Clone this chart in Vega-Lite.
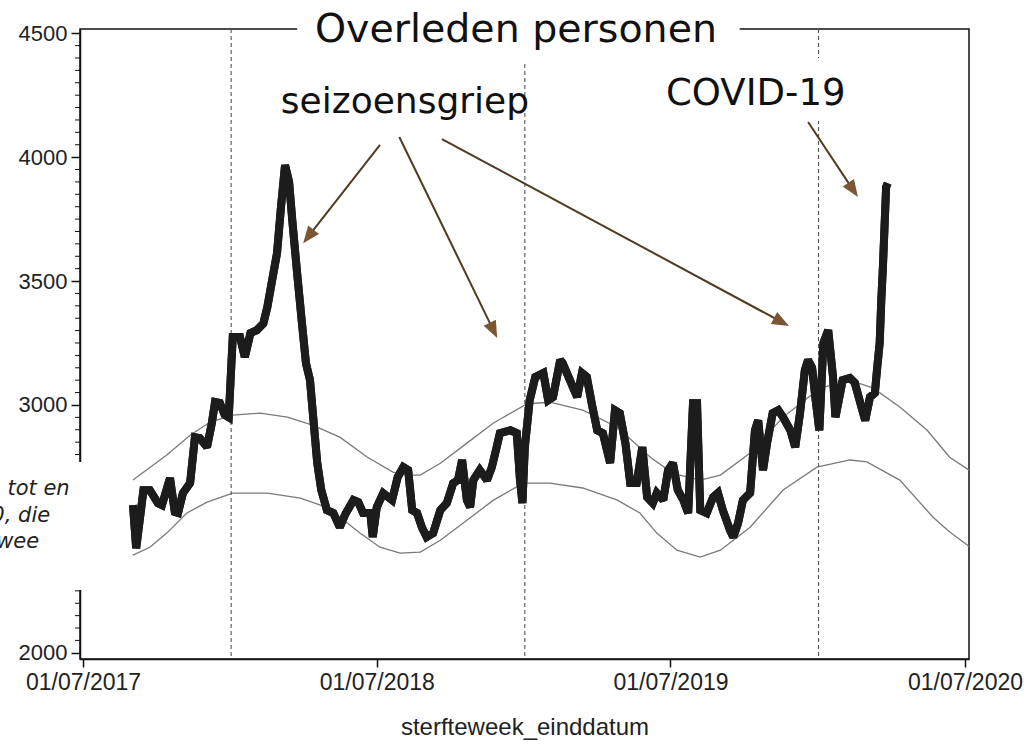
{
  "$schema": "https://vega.github.io/schema/vega-lite/v6.json",
  "width": 889,
  "height": 630,
  "autosize": "none",
  "padding": {"left": 80, "top": 29, "right": 57, "bottom": 85},
  "background": "white",
  "config": {
    "view": {"stroke": "#111111", "strokeWidth": 1.5},
    "axis": {"grid": false, "labelFont": "Liberation Sans", "titleFont": "Liberation Sans", "labelColor": "#222222", "titleColor": "#222222", "domainColor": "#111111", "tickColor": "#111111"}
  },
  "datasets": {
    "deaths": [
      {"d":"2017-09-01","v":2596},{"d":"2017-09-05","v":2422},{"d":"2017-09-14","v":2656},{"d":"2017-09-22","v":2656},
      {"d":"2017-10-02","v":2604},{"d":"2017-10-07","v":2596},{"d":"2017-10-17","v":2705},{"d":"2017-10-23","v":2568},
      {"d":"2017-10-27","v":2564},{"d":"2017-11-02","v":2644},{"d":"2017-11-11","v":2685},{"d":"2017-11-17","v":2870},
      {"d":"2017-11-23","v":2866},{"d":"2017-12-02","v":2830},{"d":"2017-12-08","v":2927},{"d":"2017-12-12","v":3012},
      {"d":"2017-12-18","v":3008},{"d":"2017-12-24","v":2960},{"d":"2017-12-29","v":2950},{"d":"2018-01-03","v":3274},
      {"d":"2018-01-12","v":3274},{"d":"2018-01-18","v":3193},{"d":"2018-01-25","v":3290},{"d":"2018-02-02","v":3302},
      {"d":"2018-02-10","v":3329},{"d":"2018-02-15","v":3395},{"d":"2018-02-21","v":3504},{"d":"2018-02-27","v":3612},
      {"d":"2018-03-04","v":3800},{"d":"2018-03-09","v":3968},{"d":"2018-03-14","v":3900},{"d":"2018-03-18","v":3745},
      {"d":"2018-03-24","v":3532},{"d":"2018-03-30","v":3330},{"d":"2018-04-04","v":3168},{"d":"2018-04-09","v":3100},
      {"d":"2018-04-13","v":2950},{"d":"2018-04-18","v":2766},{"d":"2018-04-23","v":2657},{"d":"2018-04-30","v":2576},
      {"d":"2018-05-08","v":2564},{"d":"2018-05-16","v":2507},{"d":"2018-05-23","v":2560},{"d":"2018-06-02","v":2616},
      {"d":"2018-06-08","v":2608},{"d":"2018-06-14","v":2564},{"d":"2018-06-23","v":2564},{"d":"2018-06-26","v":2467},
      {"d":"2018-07-01","v":2588},{"d":"2018-07-09","v":2644},{"d":"2018-07-20","v":2616},{"d":"2018-07-27","v":2709},
      {"d":"2018-08-03","v":2749},{"d":"2018-08-09","v":2737},{"d":"2018-08-14","v":2576},{"d":"2018-08-20","v":2564},
      {"d":"2018-08-26","v":2507},{"d":"2018-09-01","v":2467},{"d":"2018-09-09","v":2483},{"d":"2018-09-18","v":2576},
      {"d":"2018-09-26","v":2604},{"d":"2018-10-04","v":2685},{"d":"2018-10-10","v":2697},{"d":"2018-10-15","v":2778},
      {"d":"2018-10-21","v":2616},{"d":"2018-10-25","v":2588},{"d":"2018-10-29","v":2697},{"d":"2018-11-06","v":2737},
      {"d":"2018-11-15","v":2697},{"d":"2018-11-21","v":2749},{"d":"2018-11-27","v":2830},{"d":"2018-12-01","v":2886},
      {"d":"2018-12-14","v":2898},{"d":"2018-12-22","v":2886},{"d":"2018-12-26","v":2697},{"d":"2018-12-29","v":2604},
      {"d":"2019-01-01","v":2830},{"d":"2019-01-07","v":3019},{"d":"2019-01-14","v":3113},{"d":"2019-01-24","v":3129},
      {"d":"2019-01-30","v":3019},{"d":"2019-02-05","v":3032},{"d":"2019-02-14","v":3181},{"d":"2019-02-17","v":3169},
      {"d":"2019-02-26","v":3100},{"d":"2019-03-07","v":3032},{"d":"2019-03-13","v":3129},{"d":"2019-03-19","v":3113},
      {"d":"2019-03-26","v":2992},{"d":"2019-04-01","v":2898},{"d":"2019-04-08","v":2886},{"d":"2019-04-17","v":2766},
      {"d":"2019-04-23","v":2979},{"d":"2019-04-29","v":2967},{"d":"2019-05-06","v":2845},{"d":"2019-05-12","v":2685},
      {"d":"2019-05-20","v":2685},{"d":"2019-05-27","v":2830},{"d":"2019-06-02","v":2628},{"d":"2019-06-09","v":2604},
      {"d":"2019-06-14","v":2645},{"d":"2019-06-22","v":2616},{"d":"2019-06-28","v":2737},{"d":"2019-07-04","v":2766},
      {"d":"2019-07-10","v":2657},{"d":"2019-07-17","v":2616},{"d":"2019-07-23","v":2564},{"d":"2019-07-29","v":3007},
      {"d":"2019-08-03","v":3007},{"d":"2019-08-07","v":2576},{"d":"2019-08-15","v":2564},{"d":"2019-08-23","v":2628},
      {"d":"2019-08-29","v":2645},{"d":"2019-09-04","v":2576},{"d":"2019-09-13","v":2495},{"d":"2019-09-17","v":2467},
      {"d":"2019-09-23","v":2523},{"d":"2019-09-29","v":2616},{"d":"2019-10-08","v":2645},{"d":"2019-10-14","v":2898},
      {"d":"2019-10-18","v":2938},{"d":"2019-10-24","v":2737},{"d":"2019-10-29","v":2845},{"d":"2019-11-05","v":2967},
      {"d":"2019-11-12","v":2979},{"d":"2019-11-18","v":2950},{"d":"2019-11-27","v":2898},{"d":"2019-12-03","v":2830},
      {"d":"2019-12-09","v":2967},{"d":"2019-12-15","v":3141},{"d":"2019-12-19","v":3181},{"d":"2019-12-24","v":3150},
      {"d":"2019-12-28","v":3032},{"d":"2020-01-02","v":2898},{"d":"2020-01-07","v":3250},{"d":"2020-01-13","v":3302},
      {"d":"2020-01-19","v":3113},{"d":"2020-01-22","v":2951},{"d":"2020-01-25","v":3000},{"d":"2020-01-31","v":3100},
      {"d":"2020-02-09","v":3109},{"d":"2020-02-15","v":3090},{"d":"2020-02-22","v":3007},{"d":"2020-02-28","v":2938},
      {"d":"2020-03-05","v":3032},{"d":"2020-03-11","v":3048},{"d":"2020-03-14","v":3153},{"d":"2020-03-17","v":3250},
      {"d":"2020-03-19","v":3423},{"d":"2020-03-21","v":3556},{"d":"2020-03-23","v":3717},{"d":"2020-03-25","v":3879},
      {"d":"2020-03-27","v":3895}
    ],
    "bounds": [
      {"b":"boven","d":"2017-09-01","v":2697},{"b":"boven","d":"2017-10-13","v":2798},{"b":"boven","d":"2017-11-11","v":2878},
      {"b":"boven","d":"2017-12-06","v":2931},{"b":"boven","d":"2018-01-03","v":2959},{"b":"boven","d":"2018-02-06","v":2967},
      {"b":"boven","d":"2018-03-12","v":2951},{"b":"boven","d":"2018-04-13","v":2918},{"b":"boven","d":"2018-05-16","v":2870},
      {"b":"boven","d":"2018-06-19","v":2790},{"b":"boven","d":"2018-07-21","v":2729},{"b":"boven","d":"2018-08-08","v":2717},
      {"b":"boven","d":"2018-08-24","v":2717},{"b":"boven","d":"2018-09-18","v":2765},{"b":"boven","d":"2018-10-21","v":2846},
      {"b":"boven","d":"2018-11-23","v":2927},{"b":"boven","d":"2019-01-04","v":3005},{"b":"boven","d":"2019-02-01","v":3011},
      {"b":"boven","d":"2019-03-14","v":2979},{"b":"boven","d":"2019-04-26","v":2910},{"b":"boven","d":"2019-06-06","v":2789},
      {"b":"boven","d":"2019-07-04","v":2724},{"b":"boven","d":"2019-08-07","v":2697},{"b":"boven","d":"2019-09-01","v":2717},
      {"b":"boven","d":"2019-10-08","v":2806},{"b":"boven","d":"2019-11-18","v":2951},{"b":"boven","d":"2020-01-03","v":3068},
      {"b":"boven","d":"2020-02-09","v":3100},{"b":"boven","d":"2020-03-09","v":3068},{"b":"boven","d":"2020-04-11","v":2992},
      {"b":"boven","d":"2020-05-15","v":2898},{"b":"boven","d":"2020-06-12","v":2789},{"b":"boven","d":"2020-07-06","v":2737},
      {"b":"onder","d":"2017-09-01","v":2394},{"b":"onder","d":"2017-09-22","v":2426},{"b":"onder","d":"2017-10-13","v":2483},
      {"b":"onder","d":"2017-11-07","v":2564},{"b":"onder","d":"2017-12-02","v":2608},{"b":"onder","d":"2018-01-03","v":2644},
      {"b":"onder","d":"2018-02-15","v":2644},{"b":"onder","d":"2018-03-28","v":2624},{"b":"onder","d":"2018-04-22","v":2596},
      {"b":"onder","d":"2018-05-16","v":2548},{"b":"onder","d":"2018-06-10","v":2483},{"b":"onder","d":"2018-07-05","v":2426},
      {"b":"onder","d":"2018-07-30","v":2402},{"b":"onder","d":"2018-08-24","v":2406},{"b":"onder","d":"2018-09-18","v":2454},
      {"b":"onder","d":"2018-10-21","v":2535},{"b":"onder","d":"2018-11-23","v":2616},{"b":"onder","d":"2018-12-30","v":2685},
      {"b":"onder","d":"2019-02-01","v":2685},{"b":"onder","d":"2019-03-14","v":2665},{"b":"onder","d":"2019-04-26","v":2616},
      {"b":"onder","d":"2019-05-24","v":2564},{"b":"onder","d":"2019-06-14","v":2483},{"b":"onder","d":"2019-07-09","v":2414},
      {"b":"onder","d":"2019-08-07","v":2386},{"b":"onder","d":"2019-09-01","v":2414},{"b":"onder","d":"2019-10-08","v":2507},
      {"b":"onder","d":"2019-11-18","v":2657},{"b":"onder","d":"2019-12-30","v":2749},{"b":"onder","d":"2020-02-09","v":2778},
      {"b":"onder","d":"2020-03-01","v":2770},{"b":"onder","d":"2020-04-11","v":2697},{"b":"onder","d":"2020-05-22","v":2548},
      {"b":"onder","d":"2020-06-12","v":2487},{"b":"onder","d":"2020-07-06","v":2430}
    ],
    "arrows": [
      {"id":1,"d1":"2018-07-05","v1":4049,"d2":"2018-04-07","v2":3680},
      {"id":2,"d1":"2018-07-29","v1":4081,"d2":"2018-11-23","v2":3301},
      {"id":3,"d1":"2018-09-20","v1":4073,"d2":"2019-11-16","v2":3335},
      {"id":4,"d1":"2019-12-19","v1":4142,"d2":"2020-02-13","v2":3868}
    ],
    "minor": [
      {"v":2050},{"v":2100},{"v":2150},{"v":2200},{"v":2250},{"v":2300},{"v":2350},{"v":2400},{"v":2450},
      {"v":2550},{"v":2600},{"v":2650},{"v":2700},{"v":2750},{"v":2800},{"v":2850},{"v":2900},{"v":2950},
      {"v":3050},{"v":3100},{"v":3150},{"v":3200},{"v":3250},{"v":3300},{"v":3350},{"v":3400},{"v":3450},
      {"v":3550},{"v":3600},{"v":3650},{"v":3700},{"v":3750},{"v":3800},{"v":3850},{"v":3900},{"v":3950},
      {"v":4050},{"v":4100},{"v":4150},{"v":4200},{"v":4250},{"v":4300},{"v":4350},{"v":4400},{"v":4450}
    ]
  },
  "layer": [
    {
      "data": {"name": "deaths"},
      "mark": {"type": "line", "color": "#1c1c1c", "strokeWidth": 8, "strokeJoin": "miter", "strokeMiterLimit": 2},
      "encoding": {
        "x": {
          "field": "d", "type": "temporal",
          "scale": {"type": "utc", "domain": [1498536000000, 1593993600000]},
          "axis": {
            "values": [1498867200000, 1530403200000, 1561939200000, 1593561600000],
            "labelExpr": "utcFormat(datum.value, '%d/%m/%Y')", "tickSize": 8, "tickWidth": 1.5, "domainWidth": 1.5, "labelPadding": 4,
            "labelFontSize": 23, "labelOverlap": false,
            "title": "sterfteweek_einddatum", "titleFontSize": 24, "titleFontWeight": "normal", "titlePadding": 21
          }
        },
        "y": {
          "field": "v", "type": "quantitative",
          "scale": {"domain": [1975, 4517], "nice": false, "zero": false},
          "axis": {
            "orient": "left", "values": [2000, 2500, 3000, 3500, 4000, 4500], "format": "d", "tickSize": 9, "tickWidth": 1.5,
            "domainWidth": 1.5, "labelPadding": 4, "labelFontSize": 22, "title": null
          }
        }
      }
    },
    {
      "data": {"name": "minor"},
      "mark": {"type": "point", "shape": "M-1,0L0,0", "size": 100, "filled": false, "stroke": "#111111", "strokeWidth": 1, "opacity": 1},
      "encoding": {
        "x": {"datum": 1498536000000, "type": "temporal"},
        "y": {"field": "v", "type": "quantitative"}
      }
    },
    {
      "data": {"name": "bounds"},
      "mark": {"type": "line", "color": "#7a7a7a", "strokeWidth": 1.3},
      "encoding": {
        "x": {"field": "d", "type": "temporal"},
        "y": {"field": "v", "type": "quantitative"},
        "detail": {"field": "b"}
      }
    },
    {
      "data": {"values": [{"d": "2018-01-01"}, {"d": "2019-01-01"}, {"d": "2020-01-01"}]},
      "mark": {"type": "rule", "color": "#555555", "strokeWidth": 1.1, "strokeDash": [4, 3]},
      "encoding": {
        "x": {"field": "d", "type": "temporal"}
      }
    },
    {
      "data": {"name": "deaths"},
      "mark": {"type": "line", "color": "#1c1c1c", "strokeWidth": 8, "strokeJoin": "miter", "strokeMiterLimit": 2},
      "encoding": {
        "x": {"field": "d", "type": "temporal"},
        "y": {"field": "v", "type": "quantitative"}
      }
    },
    {
      "data": {"values": [
        {"x1": "2018-03-24", "x2": "2019-09-25", "y1": 4384, "y2": 4580},
        {"x1": "2019-06-18", "x2": "2020-02-09", "y1": 4146, "y2": 4400},
        {"x1": "2016-11-01", "x2": "2017-08-03", "y1": 2253, "y2": 2770}
      ]},
      "mark": {"type": "rect", "color": "white", "opacity": 1},
      "encoding": {
        "x": {"field": "x1", "type": "temporal"},
        "x2": {"field": "x2"},
        "y": {"field": "y1", "type": "quantitative"},
        "y2": {"field": "y2"}
      }
    },
    {
      "data": {"values": [{"d": "2018-12-21", "v": 4465, "t": "Overleden personen"}]},
      "mark": {"type": "text", "font": "DejaVu Sans", "fontSize": 39.5, "align": "center", "baseline": "alphabetic", "color": "#111111"},
      "encoding": {
        "x": {"field": "d", "type": "temporal"},
        "y": {"field": "v", "type": "quantitative"},
        "text": {"field": "t"}
      }
    },
    {
      "data": {"values": [{"d": "2018-08-05", "v": 4178, "t": "seizoensgriep"}]},
      "mark": {"type": "text", "font": "DejaVu Sans", "fontSize": 36, "align": "center", "baseline": "alphabetic", "color": "#111111"},
      "encoding": {
        "x": {"field": "d", "type": "temporal"},
        "y": {"field": "v", "type": "quantitative"},
        "text": {"field": "t"}
      }
    },
    {
      "data": {"values": [{"d": "2019-10-15", "v": 4210, "t": "COVID-19"}]},
      "mark": {"type": "text", "font": "DejaVu Sans", "fontSize": 37, "align": "center", "baseline": "alphabetic", "color": "#111111"},
      "encoding": {
        "x": {"field": "d", "type": "temporal"},
        "y": {"field": "v", "type": "quantitative"},
        "text": {"field": "t"}
      }
    },
    {
      "data": {"values": [
        {"d": "2017-03-29", "v": 2637, "t": "tot en"},
        {"d": "2017-03-09", "v": 2528, "t": "0, die"},
        {"d": "2017-03-15", "v": 2423, "t": "wee"}
      ]},
      "mark": {"type": "text", "font": "DejaVu Sans", "fontSize": 21, "fontStyle": "italic", "align": "left", "baseline": "alphabetic", "color": "#222222"},
      "encoding": {
        "x": {"field": "d", "type": "temporal"},
        "y": {"field": "v", "type": "quantitative"},
        "text": {"field": "t"}
      }
    },
    {
      "data": {"name": "arrows"},
      "mark": {"type": "rule", "color": "#4f3b22", "strokeWidth": 2},
      "encoding": {
        "x": {"field": "d1", "type": "temporal"},
        "x2": {"field": "d2"},
        "y": {"field": "v1", "type": "quantitative"},
        "y2": {"field": "v2"}
      }
    },
    {
      "data": {"name": "arrows"},
      "transform": [{"filter": "datum.id == 1"}],
      "mark": {"type": "point", "shape": "M0,-1L-0.8,1L0.8,1Z", "filled": true, "size": 289, "color": "#7a5634", "opacity": 1, "angle": 218},
      "encoding": {
        "x": {"field": "d2", "type": "temporal"},
        "y": {"field": "v2", "type": "quantitative"}
      }
    },
    {
      "data": {"name": "arrows"},
      "transform": [{"filter": "datum.id == 2"}],
      "mark": {"type": "point", "shape": "M0,-1L-0.8,1L0.8,1Z", "filled": true, "size": 289, "color": "#7a5634", "opacity": 1, "angle": 154},
      "encoding": {
        "x": {"field": "d2", "type": "temporal"},
        "y": {"field": "v2", "type": "quantitative"}
      }
    },
    {
      "data": {"name": "arrows"},
      "transform": [{"filter": "datum.id == 3"}],
      "mark": {"type": "point", "shape": "M0,-1L-0.8,1L0.8,1Z", "filled": true, "size": 289, "color": "#7a5634", "opacity": 1, "angle": 118},
      "encoding": {
        "x": {"field": "d2", "type": "temporal"},
        "y": {"field": "v2", "type": "quantitative"}
      }
    },
    {
      "data": {"name": "arrows"},
      "transform": [{"filter": "datum.id == 4"}],
      "mark": {"type": "point", "shape": "M0,-1L-0.8,1L0.8,1Z", "filled": true, "size": 289, "color": "#7a5634", "opacity": 1, "angle": 146},
      "encoding": {
        "x": {"field": "d2", "type": "temporal"},
        "y": {"field": "v2", "type": "quantitative"}
      }
    }
  ]
}
